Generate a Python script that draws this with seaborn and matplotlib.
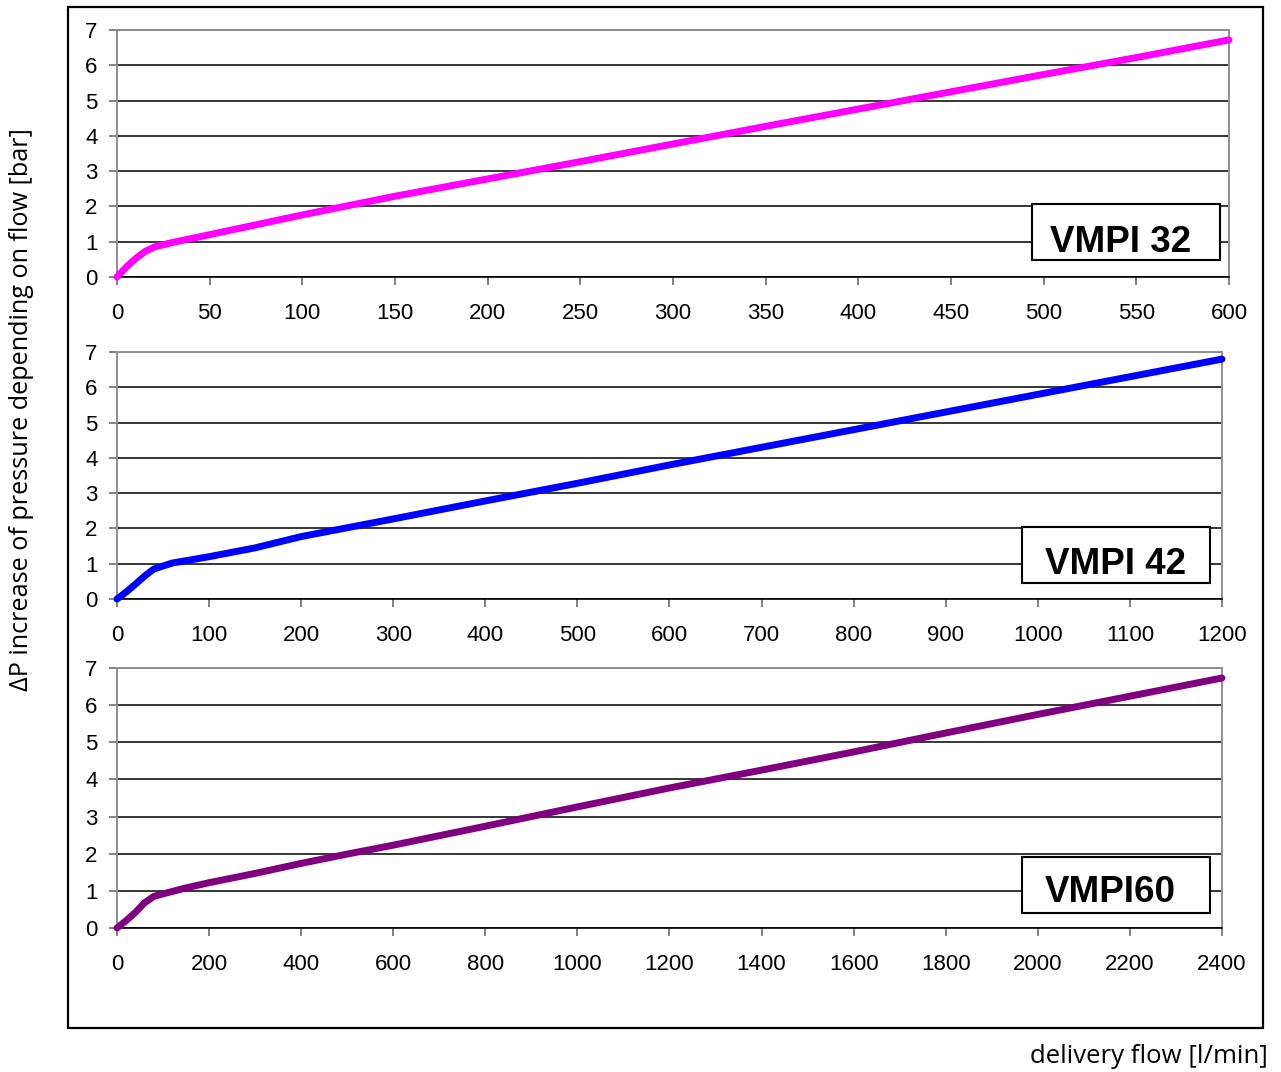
import matplotlib
matplotlib.use("Agg")
import matplotlib.pyplot as plt
import seaborn as sns
import numpy as np
import pandas as pd
from matplotlib.patches import Rectangle

# Values (flow in l/min, pressure increase in bar)
flow_32 = [0, 5, 10, 15, 20, 30, 50, 100, 150, 200, 250, 300, 350, 400, 450, 500, 550, 600]
dp_32 = [0, 0.28, 0.52, 0.72, 0.85, 0.98, 1.2, 1.76, 2.29, 2.78, 3.27, 3.77, 4.27, 4.76, 5.25, 5.74, 6.22, 6.72]

flow_42 = [0, 10, 20, 30, 40, 60, 100, 150, 200, 300, 400, 500, 600, 700, 800, 900, 1000, 1100, 1200]
dp_42 = [0, 0.2, 0.42, 0.65, 0.85, 1.02, 1.2, 1.45, 1.77, 2.27, 2.78, 3.28, 3.8, 4.3, 4.8, 5.3, 5.8, 6.3, 6.8]

flow_60 = [0, 20, 40, 60, 80, 100, 150, 200, 300, 400, 500, 600, 800, 1000, 1200, 1400, 1600, 1800, 2000, 2200, 2400]
dp_60 = [0, 0.2, 0.42, 0.68, 0.85, 0.92, 1.08, 1.22, 1.47, 1.74, 1.99, 2.23, 2.74, 3.26, 3.77, 4.25, 4.74, 5.25, 5.75, 6.24, 6.73]

labels = ["VMPI 32", "VMPI 42", "VMPI60"]
colors = ["#FF00FF", "#0000FF", "#800080"]
x_max = [600, 1200, 2400]
x_step = [50, 100, 200]

sns.set_style("white")
plt.rcParams['font.family'] = ['Liberation Sans', 'DejaVu Sans']
plt.rcParams['text.color'] = 'black'

fig = plt.figure(figsize=(12.81, 10.72), dpi=100)

# axes positions: [left, bottom, width, height]
positions = [
    [0.0913, 0.7416, 0.8681, 0.2304],
    [0.0913, 0.4412, 0.8626, 0.2304],
    [0.0913, 0.1343, 0.8626, 0.2426],
]
box_pos = [
    (0.823, 0.069, 0.169, 0.227),
    (0.819, 0.065, 0.170, 0.226),
    (0.819, 0.058, 0.170, 0.215),
]
text_x = [0.903, 0.904, 0.899]

series = [(flow_32, dp_32), (flow_42, dp_42), (flow_60, dp_60)]

for i, (xs, ys) in enumerate(series):
    ax = fig.add_axes(positions[i])
    df = pd.DataFrame({"flow": xs, "dp": ys})
    sns.lineplot(data=df, x="flow", y="dp", ax=ax, color=colors[i], linewidth=5,
                 clip_on=False, zorder=3)
    ax.set_xlim(0, x_max[i])
    ax.set_ylim(0, 7)
    ax.set_xticks(np.arange(0, x_max[i] + 1, x_step[i]))
    ax.set_yticks(range(0, 8))
    ax.set_xlabel("")
    ax.set_ylabel("")
    ax.set_axisbelow(True)
    ax.yaxis.grid(True, color="black", linewidth=1.1)
    ax.xaxis.grid(False)
    for side in ["left", "right", "top"]:
        ax.spines[side].set_color("#909090")
        ax.spines[side].set_linewidth(1.4)
    ax.spines["bottom"].set_color("black")
    ax.spines["bottom"].set_linewidth(1.2)
    ax.tick_params(axis="both", which="both", direction="out", length=6, width=1.1,
                   color="#606060", labelsize=16, labelcolor="black")
    ax.tick_params(axis="y", pad=8, left=True)
    ax.tick_params(axis="x", pad=12.5, bottom=True)

    bx, by, bw, bh = box_pos[i]
    ax.add_patch(Rectangle((bx, by), bw, bh, transform=ax.transAxes, facecolor="white",
                           edgecolor="black", linewidth=1.5, zorder=5, clip_on=False))
    ax.text(text_x[i], 0.101, labels[i], transform=ax.transAxes, ha="center",
            va="baseline", fontsize=26.5, fontweight="bold", color="black", zorder=6)

# outer frame around the three charts
fig.add_artist(Rectangle((0.0531, 0.041), 0.9329, 0.9524, transform=fig.transFigure,
                         facecolor="none", edgecolor="black", linewidth=1.6))

fig.text(0.017, 0.618, "ΔP increase of pressure depending on flow [bar]", rotation=90,
         ha="center", va="center", fontsize=18.2, color="black",
         family=["Open Sans", "DejaVu Sans"])
fig.text(0.99, 0.014, "delivery flow [l/min]", ha="right", va="center",
         fontsize=18.5, color="black", family=["Open Sans", "DejaVu Sans"])

fig.savefig("out.png", dpi=100)
